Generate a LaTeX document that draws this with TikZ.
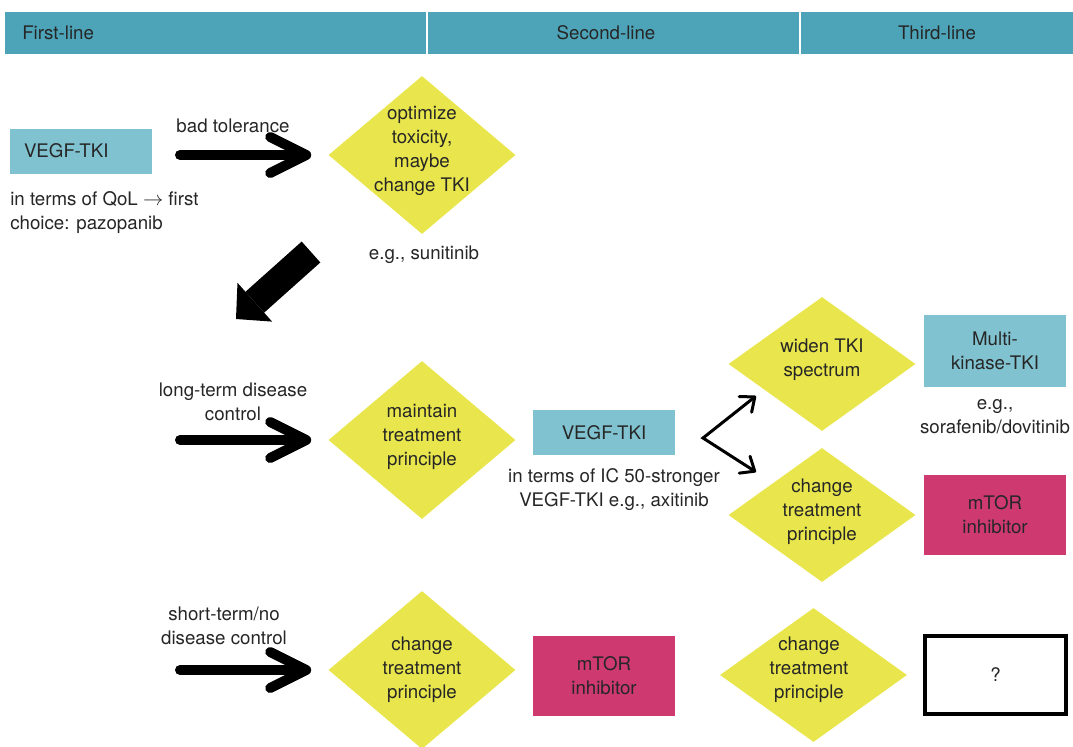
\documentclass[tikz,border=0pt]{standalone}
\usepackage{fontspec}
\setmainfont{TeX Gyre Heros}
\usetikzlibrary{shapes.geometric}
\usetikzlibrary{arrows.meta}
\definecolor{band}{HTML}{4DA4B8}
\definecolor{tkiblue}{HTML}{80C2D0}
\definecolor{stepyellow}{HTML}{E8E64C}
\definecolor{mtorred}{HTML}{CE3A70}
\definecolor{ink}{HTML}{262626}
\newcommand{\pxu}{0.025cm}
\tikzstyle{column}=[fill=band, minimum height=42*\pxu, inner sep=0]
\tikzstyle{decision}=[diamond, fill=stepyellow, inner sep=0, minimum width=187*\pxu]
\tikzstyle{big decision}=[decision, minimum height=158*\pxu, aspect=1.18]
\tikzstyle{small decision}=[decision, minimum height=134*\pxu, aspect=1.4]
\tikzstyle{drug}=[inner sep=0, align=center, minimum width=142*\pxu]
\tikzstyle{tki drug}=[drug, fill=tkiblue, minimum height=45*\pxu]
\tikzstyle{mtor drug}=[drug, fill=mtorred, minimum height=80*\pxu]
\tikzstyle{note}=[inner sep=0, align=center]
\tikzstyle{line arrow}=[line width=0.25cm, line cap=round, -{Straight Barb[round, length=0.9cm, width=0.9cm]}]
\tikzstyle{block arrow}=[line width=0.7cm, -{Triangle[length=0.63cm, width=1.3cm, line width=0pt]}]
\tikzstyle{fork arrow}=[line width=0.075cm, {Straight Barb[round, length=0.3cm, width=0.5cm]}-{Straight Barb[round, length=0.3cm, width=0.5cm]}]

\begin{document}
\begin{tikzpicture}[x=\pxu, y=-\pxu, font=\fontsize{13.3}{17.1}\selectfont, text=ink]
  \useasboundingbox (0,0) rectangle (1073,746);

  % column headers
  \node[column, minimum width=421*\pxu] (col_first) at (215.5,33) {};
  \node[column, minimum width=371*\pxu] (col_second) at (613.5,33) {};
  \node[column, minimum width=272*\pxu] (col_third) at (937,33) {};
  \node[note, anchor=west] at (22,33) {First-line};
  \node[note] at (606,33) {Second-line};
  \node[note] at (col_third) {Third-line};

  % first line
  \node[tki drug, text width=114*\pxu, inner xsep=14*\pxu, align=left] (vegf_first) at (81,151) {VEGF-TKI};
  \node[note, align=left, anchor=west] (qol_note) at (10,213) {in terms of QoL $\rightarrow$ first\\choice: pazopanib};

  \node[big decision] (tox_step) at (422,155) {};
  \node[note] at (422,151) {optimize\\toxicity,\\maybe\\change TKI};
  \node[note] (suni_note) at (424,255) {e.g., sunitinib};

  \coordinate (tol_start) at (180,155);
  \node[note] (tol_label) at (233,126) {bad tolerance};
  \draw[line arrow, shorten >=17*\pxu] (tol_start) -- (tox_step.west);

  \coordinate (drop_start) at (311,252);
  \coordinate (drop_end) at (236,319);
  \draw[block arrow] (drop_start) -- (drop_end);

  % second line
  \node[big decision] (keep_step) at (422,440) {};
  \node[note] at (422,437) {maintain\\treatment\\principle};
  \coordinate (ctrl_start) at (180,440);
  \node[note] (ctrl_note) at (233,402) {long-term disease\\control};
  \draw[line arrow, shorten >=17*\pxu] (ctrl_start) -- (keep_step.west);

  \node[tki drug] (vegf_second) at (604,432.5) {VEGF-TKI};
  \node[note] (ic50_note) at (614,490) {in terms of IC 50-stronger\\VEGF-TKI e.g., axitinib};

  \coordinate (fork) at (703,438);
  \coordinate (fork_up) at (756,396);
  \coordinate (fork_down) at (756,472);
  \draw[fork arrow] (fork_up) -- (fork) -- (fork_down);

  \node[small decision] (widen_step) at (822,364) {};
  \node[note] at (822,360) {widen TKI\\spectrum};
  \node[small decision] (switch_step) at (822,515) {};
  \node[note] at (822,512) {change\\treatment\\principle};

  \node[tki drug, minimum height=72*\pxu] (multi_kinase) at (995,351) {Multi-\\kinase-TKI};
  \node[note] (sora_note) at (995,417) {e.g.,\\sorafenib/dovitinib};
  \node[mtor drug] (mtor_third) at (995,514.5) {mTOR\\inhibitor};

  % third line
  \node[big decision] (switch_low) at (422,670) {};
  \node[note] at (422,670) {change\\treatment\\principle};
  \coordinate (noctrl_start) at (180,670);
  \node[note] (noctrl_note) at (224,626) {short-term/no\\disease control};
  \draw[line arrow, shorten >=17*\pxu] (noctrl_start) -- (switch_low.west);

  \node[mtor drug] (mtor_second) at (604,675.5) {mTOR\\inhibitor};
  \node[small decision] (switch_last) at (813.5,675) {};
  \node[note] at (809,670) {change\\treatment\\principle};
  \node[draw, line width=0.1cm, minimum width=141*\pxu, minimum height=78*\pxu, inner sep=0] (open_box) at (995.5,675) {?};
\end{tikzpicture}
\end{document}
